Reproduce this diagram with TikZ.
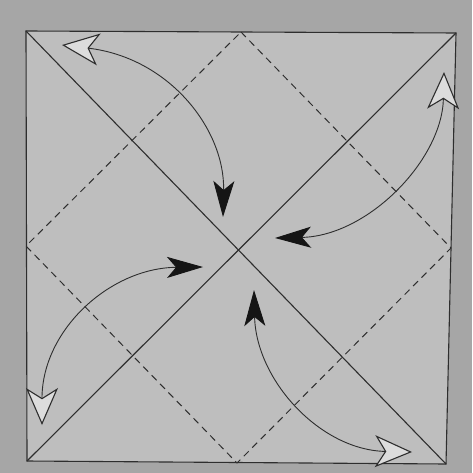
\documentclass[tikz,border=0pt]{standalone}
\usetikzlibrary{arrows.meta}
\definecolor{bgout}{HTML}{A6A6A6}
\definecolor{paper}{HTML}{BEBEBE}
\definecolor{ink}{HTML}{2E2E2E}
\definecolor{headink}{HTML}{151515}
\definecolor{openfill}{HTML}{DCDCDC}
\tikzset{
  crease/.style={draw=ink, line width=1.1pt},
  valley/.style={draw=ink, line width=1.0pt, dash pattern=on 7pt off 5pt},
  foldarrow/.style={draw=ink, line width=0.9pt,
    {Stealth[length=37pt,width=32pt,inset=10pt,fill=openfill,line width=1.1pt]}-{Stealth[length=36pt,width=21pt,inset=9pt,color=headink,fill=headink]}}
}
\begin{document}
\begin{tikzpicture}[x=1pt,y=-1pt]
\fill[bgout] (0,0) rectangle (472,473);
\useasboundingbox (0,0) rectangle (472,473);
\coordinate (TL) at (26,31);
\coordinate (TR) at (456,33);
\coordinate (BR) at (446,464);
\coordinate (BL) at (27,461);
\coordinate (MT) at (241,32);
\coordinate (MR) at (451,248);
\coordinate (MB) at (237,463);
\coordinate (ML) at (26,246);
\fill[paper] (TL) -- (TR) -- (BR) -- (BL) -- cycle;
\draw[crease] (TL) -- (TR) -- (BR) -- (BL) -- cycle;
\draw[crease] (TL) -- (BR);
\draw[crease] (TR) -- (BL);
\draw[valley] (MT) -- (MR) -- (MB) -- (ML) -- cycle;
% arrows
\coordinate (a1o) at (62,45);  \coordinate (a1f) at (223,217);
\coordinate (a2o) at (444,72); \coordinate (a2f) at (275,238);
\coordinate (a3o) at (42,425); \coordinate (a3f) at (203,267);
\coordinate (a4o) at (412,452);\coordinate (a4f) at (254,290);
\draw[foldarrow] (a1o) .. controls (170,58) and (225,130) .. (a1f);
\draw[foldarrow] (a2o) .. controls (442,160) and (368,236) .. (a2f);
\draw[foldarrow] (a3o) .. controls (42,330) and (110,268) .. (a3f);
\draw[foldarrow] (a4o) .. controls (320,450) and (256,380) .. (a4f);
\end{tikzpicture}
\end{document}
